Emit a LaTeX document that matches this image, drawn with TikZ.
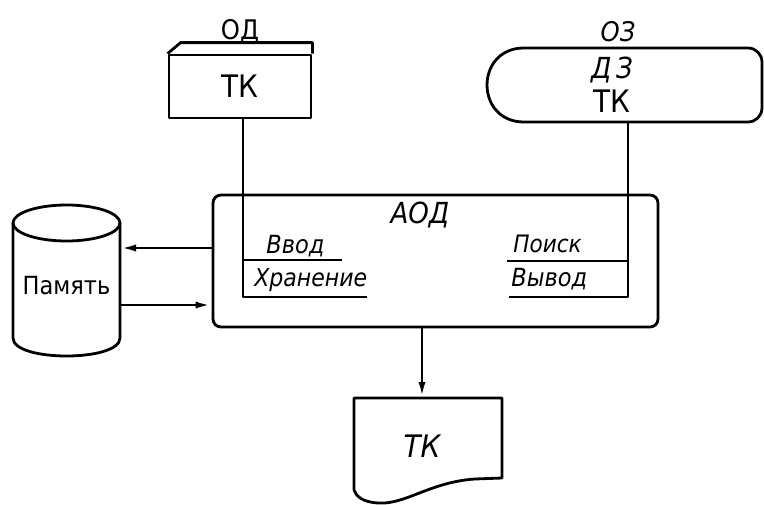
\documentclass[tikz,border=0pt]{standalone}
\usepackage{fontspec}
\setmainfont{DejaVu Sans Condensed}
\usetikzlibrary{arrows.meta}
\newcommand{\fs}[1]{\fontsize{#1}{#1}\selectfont}
\begin{document}
\begin{tikzpicture}[x=1pt,y=-1pt,line width=2.8pt,line join=round,
  arr/.style={-{Latex[length=16pt,width=7pt]}},
  txt/.style={inner sep=0pt,anchor=center}]
\useasboundingbox (0,0) rectangle (764,504);

% OD box
\node[draw,minimum width=142pt,minimum height=63pt,inner sep=0pt,font=\fs{31}] (od) at (240,86.5) {ТК};
\draw (od.north west) -- ++(13,-11) coordinate (odb) -- (odb -| od.east) -- (od.north east);
\node[txt,font=\fs{27}] (odl) at (240,32) {ОД};

% OZ terminal
\draw[rounded corners=14pt] (524,48) -- (762,48) -- (762,122) -- (524,122);
\draw (524,122) .. controls (474.7,122) and (474.7,48) .. (524,48);
\coordinate (ozb) at (628,122);
\node[txt,font=\fs{27}\itshape] (ozl) at (618,32) {ОЗ};
\node[txt,font=\fs{29}\itshape] (dz) at (612,70) {Д\,З};
\node[txt,font=\fs{31}] (oztk) at (612,101) {ТК};

% AOD
\node[draw,rounded corners=8pt,minimum width=445pt,minimum height=132pt,inner sep=0pt] (aod) at (435.5,261) {};
\node[txt,font=\fs{29}\itshape] (aodl) at (420,215) {АОД};

% left branch
\coordinate (vl) at (243,260);
\coordinate (vle) at (342,260);
\coordinate (hl) at (243,297);
\coordinate (hle) at (367,297);
\draw (od.south -| hl) -- (hl) -- (hle);
\draw (vl) -- (vle);
\node[txt,font=\fs{25}\itshape,anchor=base west] (vvod) at (265,253) {Ввод};
\node[txt,font=\fs{24.5}\itshape,anchor=base west] (hran) at (253,286) {Хранение};

% right branch
\coordinate (vr) at (628,261);
\coordinate (vre) at (507,261);
\coordinate (hr) at (628,297);
\coordinate (hre) at (509,297);
\draw (ozb) -- (hr) -- (hre);
\draw (vr) -- (vre);
\node[txt,font=\fs{24}\itshape,anchor=base west] (poisk) at (512,252) {Поиск};
\node[txt,font=\fs{25}\itshape,anchor=base west] (vyvod) at (510,286) {Вывод};

% memory cylinder
\draw (66.5,223) ellipse [x radius=53.5, y radius=18];
\draw (13,223) -- (13,338) .. controls (13,362) and (120,362) .. (120,338) -- (120,223);
\node[txt,font=\fs{25}] (mem) at (66.5,286) {Память};
\coordinate (m1) at (120,248);
\coordinate (m2) at (120,305);
\draw[arr] (aod.west |- m1) -- (m1);
\draw[arr] (m2) -- (aod.west |- m2);

% document
\draw (354,490) -- (354,398) -- (502,398) -- (502,478) -- (475,479)
  .. controls (430,482) and (405,505) .. (378,503)
  .. controls (362,502) and (356,496) .. (354,490);
\coordinate (dtop) at (422,398);
\node[txt,font=\fs{31}\itshape] (doc) at (422,446) {ТК};
\draw[arr] (aod.south -| dtop) -- (dtop);
\end{tikzpicture}
\end{document}
